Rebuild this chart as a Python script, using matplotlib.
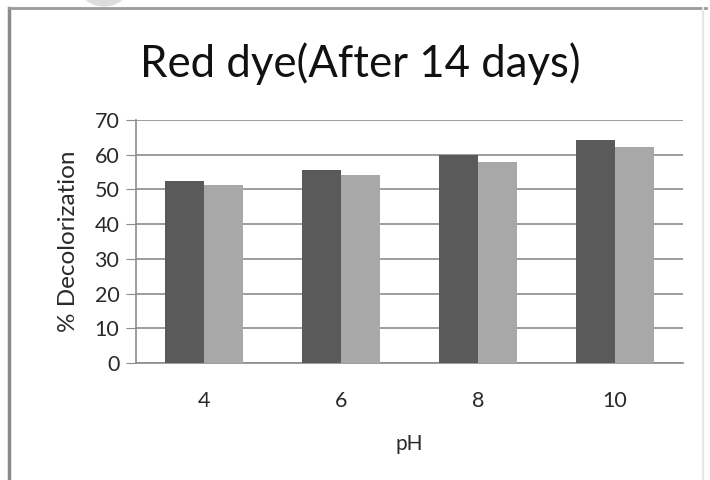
import matplotlib
matplotlib.use("Agg")
import matplotlib.pyplot as plt
import numpy as np
from matplotlib.patches import Ellipse
from matplotlib.lines import Line2D

ph_labels = ["4", "6", "8", "10"]
series_dark = [52.4, 55.6, 59.8, 64.3]
series_light = [51.2, 54.2, 58.0, 62.3]

plt.rcParams['font.family'] = ['Lato', 'DejaVu Sans']

fig = plt.figure(figsize=(7.1, 4.8), dpi=100)
ax = fig.add_axes([0.1915, 0.2437, 0.962 - 0.1915, 0.75 - 0.2437])

x = np.arange(len(ph_labels))
w = 0.285
ax.bar(x - w / 2, series_dark, w, color='#5a5a5a', zorder=3)
ax.bar(x + w / 2, series_light, w, color='#a8a8a8', zorder=3)

ax.set_xlim(-0.5, len(ph_labels) - 0.5)
ax.set_ylim(0, 70)
ax.set_yticks(range(0, 71, 10))
ax.yaxis.grid(True, color='#8c8c8c', linewidth=1.2, zorder=0)
ax.set_xticks(x)
ax.set_xticklabels(ph_labels)

for s in ['top', 'right']:
    ax.spines[s].set_visible(False)
ax.spines['left'].set_color('#8c8c8c')
ax.spines['bottom'].set_color('#8c8c8c')
ax.spines['left'].set_linewidth(1.2)
ax.spines['bottom'].set_linewidth(1.2)
ax.tick_params(axis='y', length=7, color='#8c8c8c', labelsize=15.5, pad=5, labelcolor='#2a2a2a')
ax.tick_params(axis='x', length=0, labelsize=15.5, pad=20, labelcolor='#2a2a2a')

ax.set_xlabel("pH", fontsize=15, color='#2a2a2a', labelpad=17)
ax.set_ylabel("% Decolorization", fontsize=17.5, color='#2a2a2a', labelpad=11)
fig.text(0.507, 0.868, "Red dye(After 14 days)", fontsize=31.5, ha='center', va='center', color='#111111')

# outer frame of the pasted chart
fig.add_artist(Line2D([9 / 710, 9 / 710], [0, 1 - 8 / 480], color='#8a8a8a', linewidth=2.5))
fig.add_artist(Line2D([9 / 710, 706 / 710], [1 - 8 / 480, 1 - 8 / 480], color='#9a9a9a', linewidth=2))
fig.add_artist(Line2D([703 / 710, 703 / 710], [0, 1 - 8 / 480], color='#e6e6e6', linewidth=1.5))
fig.add_artist(Ellipse((104 / 710, 1 - (-22) / 480), 56 / 710, 56 / 480, color='#dcdcdc', zorder=0))

fig.savefig("out.png", dpi=100)
